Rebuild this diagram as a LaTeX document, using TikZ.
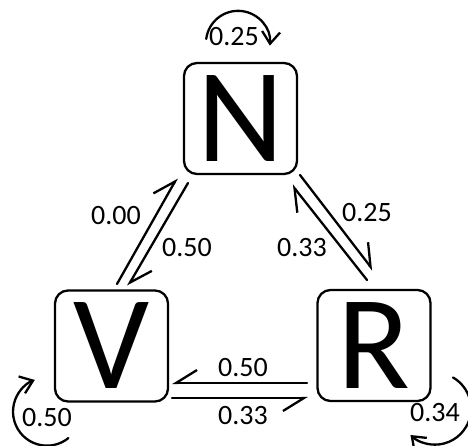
\documentclass[tikz,border=0pt]{standalone}
\usepackage{fontspec}
\setmainfont{Carlito}
\usetikzlibrary{arrows.meta}
\begin{document}
\begin{tikzpicture}[x=1pt, y=1pt, line width=2.3pt, line cap=round, line join=round,
  state/.style={draw, rounded corners=13pt, minimum width=113pt, minimum height=111pt,
    inner sep=0pt, font=\fontsize{134}{134}\selectfont},
  prob/.style={inner sep=0pt, font=\fontsize{28}{28}\selectfont},
  harpoonL/.style={-{Straight Barb[left, length=21pt, width=26pt]}},
  harpoonR/.style={-{Straight Barb[right, length=21pt, width=26pt]}},
  loopy/.style={-{Straight Barb[length=12pt, width=18pt]}}]
\clip (0,0) rectangle (468,445);

% states
\node[state] (N) at (240.5,326.5) {N};
\node[state] (V) at (111.5,99) {V};
\node[state] (R) at (374,99.5) {R};

% transitions between states (barbs on the outer side of each pair)
\draw[harpoonL] ([shift={(5.5,62)}]V.center)    -- ([shift={(-63.5,-59.5)}]N.center);
\draw[harpoonL] ([shift={(-52.5,-64.5)}]N.center) -- ([shift={(16.5,60)}]V.center);
\draw[harpoonL] ([shift={(59.5,-56.5)}]N.center) -- ([shift={(-1,75.5)}]R.center);
\draw[harpoonL] ([shift={(-7,65.5)}]R.center)    -- ([shift={(51.5,-66.5)}]N.center);
\draw[harpoonR] ([shift={(-67,-37.5)}]R.center)  -- ([shift={(60.5,-37)}]V.center);
\draw[harpoonR] ([shift={(60.5,-52)}]V.center)   -- ([shift={(-66,-52.5)}]R.center);

\node[prob] (pVN) at (116,229) {0.00};
\node[prob] (pNV) at (187,197) {0.50};
\node[prob] (pNR) at (367,232) {0.25};
\node[prob] (pRN) at (302,197) {0.33};
\node[prob] (pRV) at (243,77) {0.50};
\node[prob] (pVR) at (243,29) {0.33};

% self loops
\coordinate (cN) at ([shift={(-2.5,19)}]N.north);
\coordinate (cV) at ([shift={(-64.5,-9)}]V.south);
\coordinate (cR) at ([shift={(61,-6.5)}]R.south);
\draw[loopy] ([shift={(173:32)}]cN) arc[start angle=173, end angle=-5, radius=32];
\draw[loopy] ([shift={(-51:34)}]cV) arc[start angle=-51, end angle=-249, radius=34];
\draw[loopy] ([shift={(60:36)}]cR) arc[start angle=60, end angle=-133, radius=36];

\node[prob] (pNN) at (234,408) {0.25};
\node[prob] (pVV) at (47,27) {0.50};
\node[prob] (pRR) at (435,32) {0.34};
\end{tikzpicture}
\end{document}
